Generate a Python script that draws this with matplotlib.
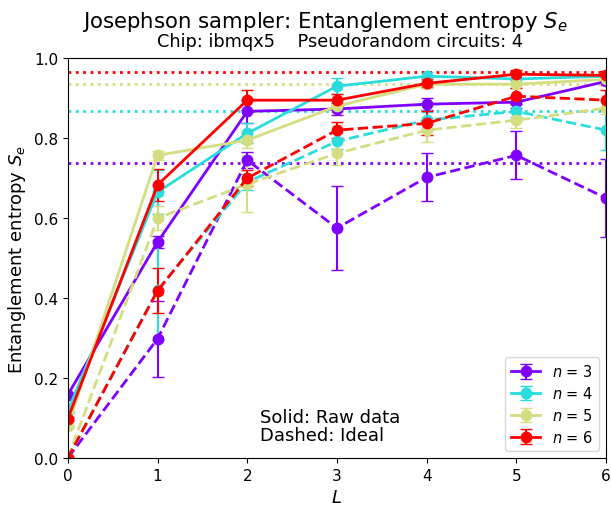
import numpy as np
import matplotlib
matplotlib.use("Agg")
import matplotlib.pyplot as plt

# circuit depth
L = [0, 1, 2, 3, 4, 5, 6]
ns = [3, 4, 5, 6]

# raw data (solid)
raw = {
    3: [0.158, 0.540, 0.867, 0.873, 0.885, 0.890, 0.942],
    4: [0.117, 0.665, 0.812, 0.930, 0.955, 0.948, 0.955],
    5: [0.080, 0.757, 0.795, 0.880, 0.935, 0.935, 0.947],
    6: [0.098, 0.683, 0.895, 0.895, 0.937, 0.960, 0.957],
}
raw_err = {
    3: [0.005, 0.015, 0.028, 0.015, 0.015, 0.015, 0.01],
    4: [0.005, 0.055, 0.025, 0.02, 0.01, 0.015, 0.01],
    5: [0.005, 0.012, 0.02, 0.015, 0.01, 0.01, 0.01],
    6: [0.005, 0.039, 0.025, 0.015, 0.01, 0.01, 0.01],
}

# ideal simulation (dashed)
ideal = {
    3: [0.0, 0.298, 0.745, 0.575, 0.702, 0.757, 0.650],
    4: [0.0, 0.420, 0.690, 0.792, 0.845, 0.867, 0.820],
    5: [0.0, 0.600, 0.685, 0.762, 0.820, 0.845, 0.875],
    6: [0.0, 0.418, 0.700, 0.820, 0.837, 0.905, 0.895],
}
ideal_err = {
    3: [0.0, 0.095, 0.02, 0.105, 0.06, 0.06, 0.097],
    4: [0.0, 0.125, 0.02, 0.02, 0.02, 0.015, 0.05],
    5: [0.0, 0.03, 0.07, 0.03, 0.03, 0.02, 0.015],
    6: [0.0, 0.056, 0.02, 0.02, 0.03, 0.02, 0.025],
}

# maximal (Page) entropy levels
page = {3: 0.7375, 4: 0.8675, 5: 0.935, 6: 0.965}

colors = plt.cm.rainbow(np.linspace(0, 1, len(ns)))

fig = plt.figure(figsize=(6.11, 5.06), dpi=100)
ax = fig.add_axes([0.111, 0.093, 0.881, 0.790])

handles = []
for i, n in enumerate(ns):
    c = colors[i]
    h = ax.errorbar(L, raw[n], yerr=raw_err[n], fmt='o-', color=c, ms=7.5, lw=2,
                    capsize=4, elinewidth=1.5, label="$n$ = %d" % n)
    handles.append(h)
    ax.errorbar(L, ideal[n], yerr=ideal_err[n], fmt='o--', color=c, ms=7.5, lw=2,
                capsize=4, elinewidth=1.5)
    ax.axhline(page[n], color=c, ls=':', lw=2)

ax.set_xlim(0, 6)
ax.set_ylim(0, 1)
ax.set_yticks(np.arange(0, 1.01, 0.2))
ax.set_xticks(L)
ax.tick_params(labelsize=11)
ax.set_xlabel("$L$", fontsize=13)
ax.set_ylabel("Entanglement entropy $S_e$", fontsize=13)

ax.text(2.14, 0.125, "Solid: Raw data\nDashed: Ideal", fontsize=13, va='top', ha='left',
        linespacing=1.0)
ax.legend(handles=handles, loc='lower right', fontsize=10.5, labelspacing=0.4)

fig.text(0.532, 1 - 28 / 506, "Josephson sampler: Entanglement entropy $S_e$", fontsize=15.3,
         ha='center', va='baseline')
fig.text(0.556, 1 - 47 / 506, "Chip: ibmqx5    Pseudorandom circuits: 4", fontsize=12.8,
         ha='center', va='baseline')

plt.savefig("out.png", dpi=100)
